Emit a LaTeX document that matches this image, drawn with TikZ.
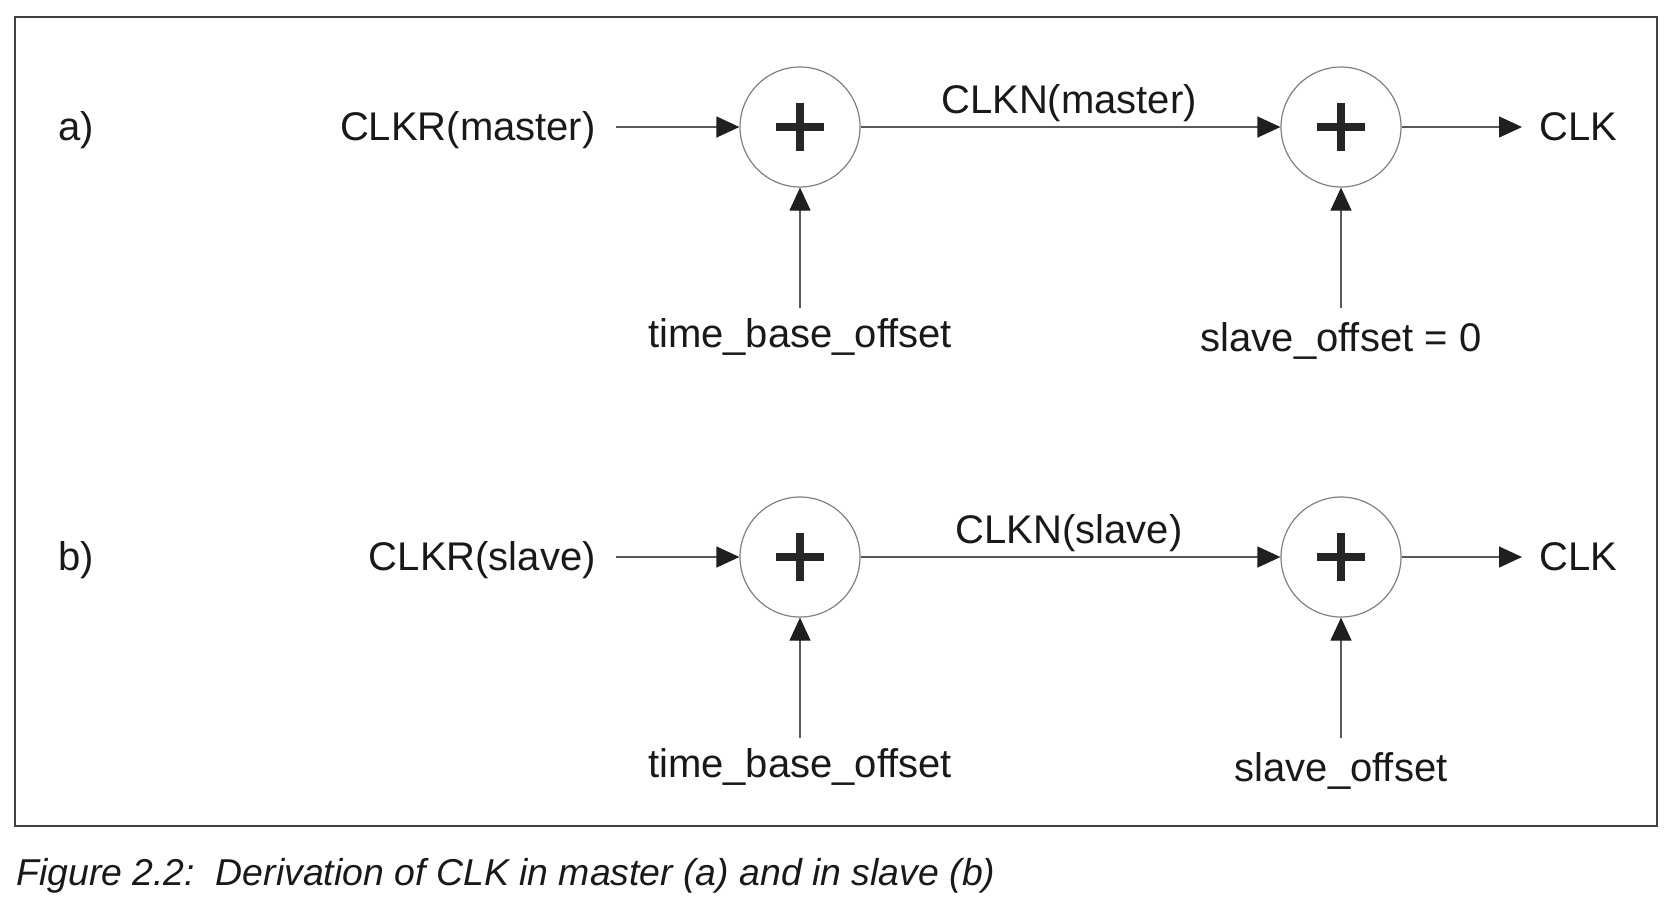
\documentclass[tikz,border=0pt]{standalone}
\usepackage{fontspec}
\setmainfont{Liberation Sans}
\usetikzlibrary{arrows.meta}
\begin{document}
\begin{tikzpicture}[x=0.5pt,y=-0.5pt]
		\tikzset{adder/.style = {shape=circle, draw=black!50, line width=.6pt, minimum size=60pt, inner sep=0pt,
			path picture={\fill[black!85] ([xshift=-12pt,yshift=-2pt]path picture bounding box.center) rectangle ([xshift=12pt,yshift=2pt]path picture bounding box.center);
				\fill[black!85] ([xshift=-2pt,yshift=-12pt]path picture bounding box.center) rectangle ([xshift=2pt,yshift=12pt]path picture bounding box.center);}}}
		\tikzset{edge/.style = {-{Triangle[length=11.5pt,width=10.5pt,color=black!88]}, draw=black!65, line width=.6pt}}
		\tikzset{lbl/.style = {font=\fontsize{20}{24}\selectfont, text=black!90, inner sep=0pt}}
		\useasboundingbox (0,0) rectangle (1674,902);
		\draw[line width=1pt, draw=black!75] (15,17) rectangle (1657,826);
		% Row a: master
		\node[lbl, anchor=base] (rowa) at (76,140) {a)};
		\node[lbl, anchor=base east] (clkra) at (596,140) {CLKR(master)};
		\node[adder] (suma1) at (800,127) {};
		\node[adder] (suma2) at (1341,127) {};
		\node[lbl, anchor=base] (clkna) at (1069,113) {CLKN(master)};
		\node[lbl, anchor=base west] (clka) at (1539,140) {CLK};
		\node[lbl, anchor=base] (tboa) at (800,347) {time\_base\_offset};
		\node[lbl, anchor=base] (soa) at (1341,351) {slave\_offset = 0};
		\coordinate (ina) at (616,127);
		\coordinate (outa) at (1522,127);
		\coordinate (tbia) at (800,308);
		\coordinate (soia) at (1341,308);
		\draw[edge] (ina) -- (suma1);
		\draw[edge] (suma1) -- (suma2);
		\draw[edge] (suma2) -- (outa);
		\draw[edge] (tbia) -- (suma1);
		\draw[edge] (soia) -- (suma2);
		% Row b: slave
		\node[lbl, anchor=base] (rowb) at (76,570) {b)};
		\node[lbl, anchor=base east] (clkrb) at (596,570) {CLKR(slave)};
		\node[adder] (sumb1) at (800,557) {};
		\node[adder] (sumb2) at (1341,557) {};
		\node[lbl, anchor=base] (clknb) at (1069,543) {CLKN(slave)};
		\node[lbl, anchor=base west] (clkb) at (1539,570) {CLK};
		\node[lbl, anchor=base] (tbob) at (800,777) {time\_base\_offset};
		\node[lbl, anchor=base] (sob) at (1341,781) {slave\_offset};
		\coordinate (inb) at (616,557);
		\coordinate (outb) at (1522,557);
		\coordinate (tbib) at (800,738);
		\coordinate (soib) at (1341,738);
		\draw[edge] (inb) -- (sumb1);
		\draw[edge] (sumb1) -- (sumb2);
		\draw[edge] (sumb2) -- (outb);
		\draw[edge] (tbib) -- (sumb1);
		\draw[edge] (soib) -- (sumb2);
		% Caption
		\node[lbl, font=\fontsize{18.7}{23}\selectfont\itshape, anchor=base west] (cap) at (16,885) {Figure 2.2:\ \ Derivation of CLK in master (a) and in slave (b)};
	\end{tikzpicture}
\end{document}
